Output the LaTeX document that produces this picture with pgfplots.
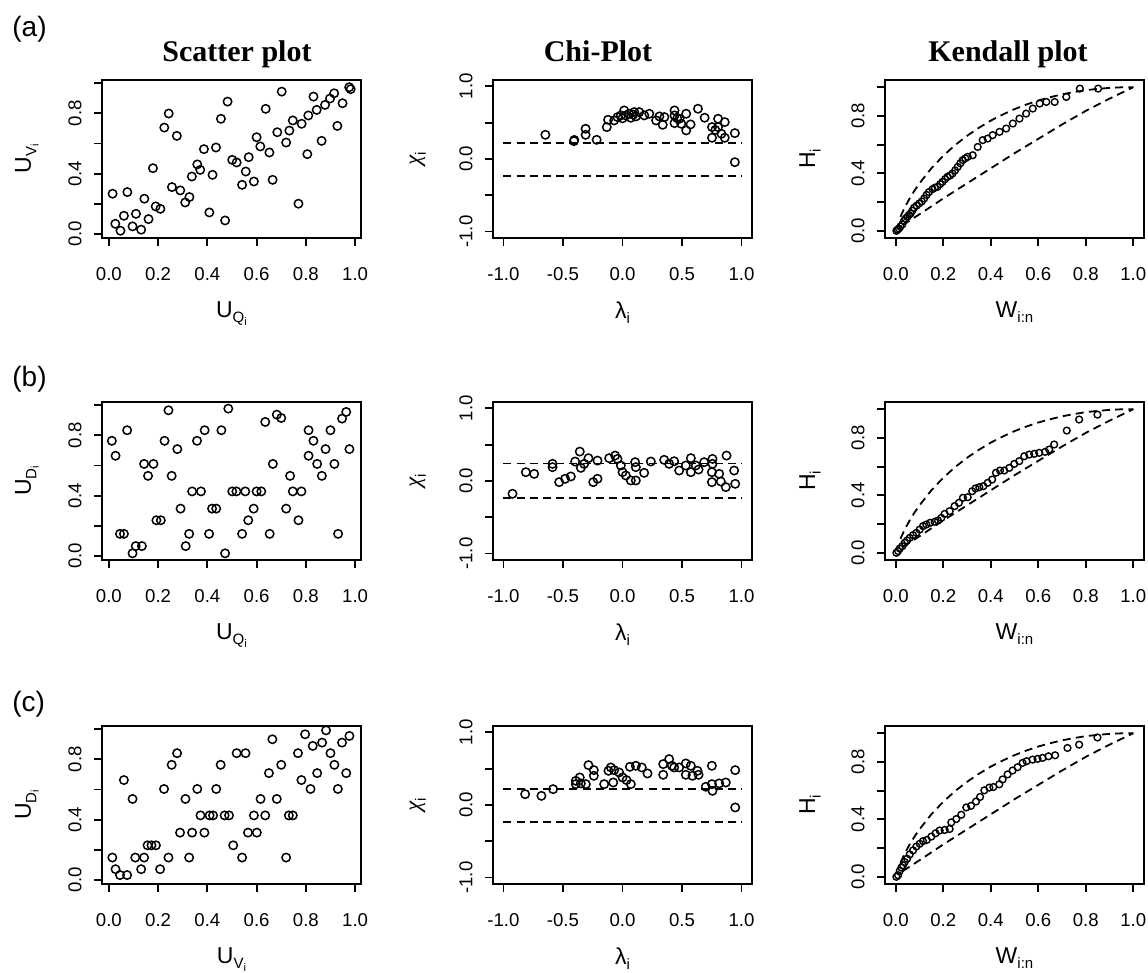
\documentclass[border=0pt]{standalone}
\usepackage{fontspec}
\setmainfont{Liberation Sans}
\newfontfamily\titlefont{Liberation Serif}
\usepackage{pgfplots}
\pgfplotsset{compat=1.18}
\newcommand{\sub}[1]{\raisebox{-0.45ex}{\fontsize{7.5}{8}\selectfont #1}}
\newcommand{\subsub}[2]{\raisebox{-0.45ex}{\fontsize{7.5}{8}\selectfont #1\raisebox{-0.3ex}{\fontsize{5.5}{6}\selectfont #2}}}
\pgfplotsset{
  rplot/.style={
    scale only axis, width=129.5pt, height=79pt, anchor=south west,
    axis line style={line width=0.9pt},
    tick align=outside, tick pos=left,
    major tick length=4pt,
    every tick/.style={black, line width=0.9pt},
    ticklabel style={font=\fontsize{9.3}{10}\selectfont, inner sep=0pt},
    xticklabel style={anchor=north, yshift=-10.5pt},
    yticklabel style={xshift=-6pt, rotate=90, anchor=south},
    label style={font=\fontsize{11.5}{13}\selectfont, inner sep=0pt},
    xlabel style={at={(axis description cs:0.5,-0.40)}, anchor=north},
    ylabel style={at={(axis description cs:-0.29,0.5)}, anchor=center},
  },
  scat/.style={rplot, xmin=-0.028, xmax=1.024, ymin=-0.026, ymax=1.02,
    xtick={0,0.2,0.4,0.6,0.8,1}, xticklabels={0.0,0.2,0.4,0.6,0.8,1.0},
    ytick={0,0.2,0.4,0.6,0.8,1}, yticklabels={0.0,,0.4,,0.8,}},
  chi/.style={rplot, xmin=-1.088, xmax=1.088, ymin=-1.088, ymax=1.088,
    xtick={-1,-0.5,0,0.5,1}, xticklabels={-1.0,-0.5,0.0,0.5,1.0},
    ytick={-1,-0.5,0,0.5,1}, yticklabels={-1.0,,0.0,,1.0},
    xlabel={λ\sub{i}}, ylabel={{\titlefont\itshape χ}\sub{i}}},
  kend/.style={rplot, xmin=-0.045, xmax=1.045, ymin=-0.05, ymax=1.05,
    xtick={0,0.2,0.4,0.6,0.8,1}, xticklabels={0.0,0.2,0.4,0.6,0.8,1.0},
    ytick={0,0.2,0.4,0.6,0.8,1}, yticklabels={0.0,,0.4,,0.8,},
    xlabel={W\sub{i:n}}, ylabel={H\sub{i}}},
  pts/.style={only marks, mark=o, mark size=2.1pt, line width=0.75pt, black},
  kpts/.style={only marks, mark=o, mark size=1.7pt, line width=0.7pt, black},
  dline/.style={black, line width=0.9pt, dash pattern=on 4pt off 2.6pt, mark=none},
}
\begin{document}
\begin{tikzpicture}
\useasboundingbox (0,0) rectangle (574pt,486.5pt);
% panel letters and titles
\node[anchor=base west, inner sep=0pt, font=\fontsize{14}{16}\selectfont] at (6pt,468pt) {(a)};
\node[anchor=base west, inner sep=0pt, font=\fontsize{14}{16}\selectfont] at (6pt,293pt) {(b)};
\node[anchor=base west, inner sep=0pt, font=\fontsize{14}{16}\selectfont] at (6pt,130.5pt) {(c)};
\node[anchor=base, inner sep=0pt, font=\titlefont\bfseries\fontsize{15}{17}\selectfont] at (118.5pt,455.5pt) {Scatter plot};
\node[anchor=base, inner sep=0pt, font=\titlefont\bfseries\fontsize{15}{17}\selectfont] at (299pt,455.5pt) {Chi-Plot};
\node[anchor=base, inner sep=0pt, font=\titlefont\bfseries\fontsize{15}{17}\selectfont] at (504pt,455.5pt) {Kendall plot};

% ================= ROW A =================
\begin{axis}[scat, at={(51pt,367.5pt)}, xlabel={U\subsub{Q}{i}}, ylabel={U\subsub{V}{i}}]
\addplot[pts] coordinates {
(0.015,0.267) (0.026,0.068) (0.047,0.022) (0.061,0.121) (0.075,0.278) (0.096,0.051)
(0.110,0.134) (0.131,0.029) (0.144,0.234) (0.161,0.099) (0.179,0.436) (0.190,0.183)
(0.209,0.167) (0.225,0.705) (0.243,0.798) (0.256,0.311) (0.276,0.650) (0.290,0.289)
(0.310,0.209) (0.327,0.245) (0.337,0.381) (0.359,0.461) (0.371,0.425) (0.386,0.562)
(0.408,0.143) (0.421,0.392) (0.435,0.573) (0.455,0.763) (0.472,0.090) (0.482,0.877)
(0.501,0.491) (0.519,0.474) (0.541,0.326) (0.556,0.414) (0.568,0.509) (0.589,0.348)
(0.600,0.641) (0.615,0.580) (0.637,0.829) (0.652,0.540) (0.665,0.359) (0.684,0.674)
(0.702,0.943) (0.720,0.606) (0.733,0.685) (0.747,0.752) (0.770,0.201) (0.783,0.730)
(0.806,0.529) (0.810,0.785) (0.831,0.910) (0.844,0.822) (0.864,0.617) (0.878,0.855)
(0.898,0.897) (0.915,0.932) (0.928,0.716) (0.949,0.866) (0.976,0.972) (0.982,0.959)
};
\end{axis}

\begin{axis}[chi, at={(246.5pt,367.5pt)}]
\addplot[dline] coordinates {(-1,0.225) (1,0.225)};
\addplot[dline] coordinates {(-1,-0.23) (1,-0.23)};
\addplot[pts] coordinates {
(-0.648,0.333) (-0.408,0.246) (-0.405,0.262) (-0.310,0.416) (-0.310,0.333) (-0.217,0.264)
(-0.132,0.439) (-0.121,0.540) (-0.070,0.531) (-0.042,0.577) (-0.014,0.600) (0.014,0.669)
(0.028,0.600) (0.056,0.623) (0.070,0.568) (0.099,0.646) (0.113,0.586) (0.141,0.646)
(0.183,0.600) (0.225,0.623) (0.282,0.531) (0.310,0.586) (0.338,0.471) (0.352,0.577)
(0.437,0.669) (0.437,0.600) (0.437,0.494) (0.479,0.554) (0.493,0.485) (0.535,0.623)
(0.535,0.393) (0.572,0.476) (0.634,0.692) (0.690,0.568) (0.752,0.439) (0.752,0.292)
(0.803,0.554) (0.803,0.439) (0.831,0.347) (0.859,0.508) (0.859,0.292) (0.944,0.356)
(0.944,-0.044) (0.000,0.560) (0.090,0.610) (0.460,0.560) (0.780,0.400)
};
\end{axis}

\begin{axis}[kend, at={(442.5pt,367.5pt)}]
\addplot[dline] coordinates {(0.02,0.098) (0.04,0.169) (0.06,0.229) (0.08,0.282) (0.1,0.330) (0.15,0.435) (0.2,0.522) (0.25,0.597) (0.3,0.661) (0.35,0.717) (0.4,0.767) (0.45,0.809) (0.5,0.847) (0.55,0.879) (0.6,0.907) (0.65,0.930) (0.7,0.950) (0.75,0.966) (0.8,0.979) (0.85,0.988) (0.9,0.995) (0.95,0.999) (1,1)};
\addplot[dline] coordinates {(0.03,0.04) (0.1,0.115) (0.2,0.225) (0.3,0.33) (0.4,0.435) (0.5,0.54) (0.6,0.64) (0.7,0.74) (0.8,0.835) (0.9,0.92) (1,1)};
\addplot[kpts] coordinates {
(0.003,0.0) (0.008,0.008) (0.014,0.016) (0.02,0.03) (0.028,0.045) (0.035,0.07) (0.042,0.085)
(0.049,0.097) (0.056,0.11) (0.063,0.121) (0.07,0.14) (0.077,0.16) (0.088,0.175) (0.099,0.19)
(0.11,0.205) (0.12,0.225) (0.13,0.25) (0.14,0.27) (0.155,0.29) (0.165,0.3) (0.176,0.306)
(0.187,0.325) (0.197,0.341) (0.208,0.36) (0.218,0.376) (0.229,0.385) (0.239,0.399) (0.25,0.42)
(0.261,0.445) (0.272,0.47) (0.282,0.492) (0.293,0.505) (0.303,0.515) (0.324,0.526) (0.345,0.584)
(0.366,0.631) (0.387,0.642) (0.408,0.666) (0.437,0.689) (0.465,0.712) (0.493,0.747) (0.521,0.781)
(0.549,0.816) (0.577,0.851) (0.606,0.886) (0.634,0.897) (0.669,0.897) (0.718,0.932) (0.775,0.99)
(0.852,0.99)
};
\end{axis}

% ================= ROW B =================
\begin{axis}[scat, at={(51pt,206.5pt)}, xlabel={U\subsub{Q}{i}}, ylabel={U\subsub{D}{i}}]
\addplot[pts] coordinates {
(0.012,0.763) (0.027,0.664) (0.045,0.147) (0.061,0.147) (0.074,0.833) (0.096,0.018)
(0.109,0.066) (0.134,0.066) (0.143,0.610) (0.159,0.531) (0.181,0.610) (0.193,0.237)
(0.211,0.237) (0.226,0.763) (0.242,0.965) (0.255,0.531) (0.278,0.708) (0.291,0.314)
(0.312,0.066) (0.326,0.147) (0.338,0.428) (0.358,0.763) (0.374,0.428) (0.389,0.833)
(0.407,0.147) (0.419,0.314) (0.436,0.314) (0.457,0.833) (0.472,0.018) (0.485,0.976)
(0.501,0.428) (0.518,0.428) (0.541,0.147) (0.554,0.428) (0.566,0.237) (0.588,0.314)
(0.600,0.428) (0.619,0.428) (0.635,0.888) (0.653,0.147) (0.666,0.610) (0.682,0.936)
(0.700,0.914) (0.720,0.314) (0.736,0.531) (0.747,0.428) (0.782,0.428) (0.770,0.237)
(0.811,0.833) (0.811,0.664) (0.831,0.763) (0.846,0.610) (0.865,0.531) (0.880,0.708)
(0.900,0.833) (0.916,0.610) (0.931,0.147) (0.947,0.910) (0.964,0.954) (0.977,0.708)
};
\end{axis}

\begin{axis}[chi, at={(246.5pt,206.5pt)}]
\addplot[dline] coordinates {(-1,0.24) (1,0.24)};
\addplot[dline] coordinates {(-1,-0.23) (1,-0.23)};
\addplot[pts] coordinates {
(-0.924,-0.176) (-0.812,0.121) (-0.742,0.098) (-0.588,0.236) (-0.588,0.190) (-0.532,-0.016)
(-0.482,0.030) (-0.434,0.062) (-0.398,0.268) (-0.359,0.405) (-0.350,0.181) (-0.322,0.236)
(-0.286,0.314) (-0.246,-0.016) (-0.210,0.030) (-0.210,0.281) (-0.112,0.314) (-0.062,0.350)
(-0.042,0.304) (-0.014,0.213) (0.000,0.121) (0.028,0.076) (0.070,0.007) (0.112,0.007)
(0.106,0.259) (0.112,0.190) (0.182,0.112) (0.238,0.268) (0.350,0.291) (0.392,0.236)
(0.434,0.272) (0.476,0.144) (0.532,0.213) (0.574,0.314) (0.574,0.121) (0.616,0.213)
(0.639,0.158) (0.686,0.259) (0.756,0.304) (0.756,0.236) (0.751,0.121) (0.751,-0.016)
(0.812,0.098) (0.826,-0.007) (0.874,0.350) (0.868,-0.085) (0.938,0.144) (0.947,-0.039)
};
\end{axis}

\begin{axis}[kend, at={(442.5pt,206.5pt)}]
\addplot[dline] coordinates {(0.02,0.098) (0.04,0.169) (0.06,0.229) (0.08,0.282) (0.1,0.330) (0.15,0.435) (0.2,0.522) (0.25,0.597) (0.3,0.661) (0.35,0.717) (0.4,0.767) (0.45,0.809) (0.5,0.847) (0.55,0.879) (0.6,0.907) (0.65,0.930) (0.7,0.950) (0.75,0.966) (0.8,0.979) (0.85,0.988) (0.9,0.995) (0.95,0.999) (1,1)};
\addplot[dline] coordinates {(0.03,0.04) (0.1,0.115) (0.2,0.225) (0.3,0.33) (0.4,0.435) (0.5,0.54) (0.6,0.64) (0.7,0.74) (0.8,0.835) (0.9,0.92) (1,1)};
\addplot[kpts] coordinates {
(0.003,0.0) (0.01,0.012) (0.017,0.03) (0.028,0.046) (0.038,0.07) (0.048,0.086) (0.059,0.104)
(0.073,0.123) (0.087,0.139) (0.101,0.162) (0.115,0.186) (0.129,0.197) (0.145,0.209) (0.164,0.216)
(0.178,0.225) (0.192,0.243) (0.206,0.271) (0.227,0.29) (0.248,0.325) (0.266,0.348) (0.283,0.383)
(0.303,0.387) (0.322,0.429) (0.336,0.448) (0.352,0.457) (0.369,0.464) (0.387,0.487) (0.406,0.510)
(0.422,0.557) (0.439,0.573) (0.457,0.573) (0.478,0.591) (0.499,0.619) (0.520,0.638) (0.541,0.672)
(0.562,0.684) (0.583,0.689) (0.604,0.696) (0.629,0.703) (0.646,0.719) (0.667,0.754) (0.720,0.851)
(0.772,0.928) (0.849,0.962)
};
\end{axis}

% ================= ROW C =================
\begin{axis}[scat, at={(51pt,44.5pt)}, xlabel={U\subsub{V}{i}}, ylabel={U\subsub{D}{i}}]
\addplot[pts] coordinates {
(0.014,0.149) (0.027,0.072) (0.045,0.033) (0.061,0.662) (0.074,0.033) (0.096,0.537)
(0.107,0.149) (0.131,0.072) (0.143,0.149) (0.157,0.230) (0.173,0.230) (0.191,0.230)
(0.208,0.072) (0.224,0.603) (0.242,0.149) (0.255,0.763) (0.277,0.840) (0.289,0.314)
(0.311,0.537) (0.326,0.149) (0.338,0.314) (0.359,0.603) (0.372,0.428) (0.388,0.314)
(0.409,0.428) (0.423,0.428) (0.436,0.603) (0.454,0.763) (0.470,0.428) (0.488,0.428)
(0.505,0.230) (0.519,0.840) (0.555,0.840) (0.541,0.149) (0.565,0.314) (0.589,0.428)
(0.601,0.314) (0.616,0.537) (0.635,0.428) (0.650,0.708) (0.664,0.932) (0.682,0.537)
(0.700,0.763) (0.720,0.149) (0.731,0.428) (0.747,0.428) (0.768,0.840) (0.782,0.662)
(0.797,0.965) (0.819,0.603) (0.828,0.888) (0.846,0.708) (0.866,0.910) (0.882,0.991)
(0.900,0.840) (0.916,0.763) (0.930,0.603) (0.947,0.910) (0.964,0.708) (0.977,0.954)
};
\end{axis}

\begin{axis}[chi, at={(246.5pt,44.5pt)}]
\addplot[dline] coordinates {(-1,0.225) (1,0.225)};
\addplot[dline] coordinates {(-1,-0.235) (1,-0.235)};
\addplot[pts] coordinates {
(-0.818,0.149) (-0.681,0.126) (-0.583,0.218) (-0.392,0.333) (-0.392,0.287) (-0.359,0.379)
(-0.350,0.297) (-0.308,0.287) (-0.286,0.549) (-0.241,0.480) (-0.241,0.402) (-0.154,0.287)
(-0.118,0.471) (-0.098,0.517) (-0.078,0.310) (-0.070,0.480) (-0.028,0.448) (0.000,0.379)
(0.034,0.343) (0.062,0.526) (0.070,0.287) (0.112,0.540) (0.162,0.517) (0.210,0.434)
(0.342,0.563) (0.342,0.416) (0.392,0.632) (0.415,0.540) (0.434,0.517) (0.476,0.517)
(0.532,0.572) (0.532,0.416) (0.574,0.540) (0.588,0.402) (0.630,0.471) (0.639,0.416)
(0.700,0.251) (0.751,0.540) (0.751,0.287) (0.756,0.195) (0.812,0.297) (0.868,0.310)
(0.947,0.480) (0.947,-0.034)
};
\end{axis}

\begin{axis}[kend, at={(442.5pt,44.5pt)}]
\addplot[dline] coordinates {(0.02,0.098) (0.04,0.169) (0.06,0.229) (0.08,0.282) (0.1,0.330) (0.15,0.435) (0.2,0.522) (0.25,0.597) (0.3,0.661) (0.35,0.717) (0.4,0.767) (0.45,0.809) (0.5,0.847) (0.55,0.879) (0.6,0.907) (0.65,0.930) (0.7,0.950) (0.75,0.966) (0.8,0.979) (0.85,0.988) (0.9,0.995) (0.95,0.999) (1,1)};
\addplot[dline] coordinates {(0.03,0.04) (0.1,0.115) (0.2,0.225) (0.3,0.33) (0.4,0.435) (0.5,0.54) (0.6,0.64) (0.7,0.74) (0.8,0.835) (0.9,0.92) (1,1)};
\addplot[kpts] coordinates {
(0.003,0.0) (0.01,0.011) (0.017,0.041) (0.024,0.064) (0.031,0.08) (0.038,0.103) (0.048,0.126)
(0.059,0.156) (0.073,0.184) (0.087,0.211) (0.101,0.23) (0.115,0.248) (0.131,0.257) (0.150,0.28)
(0.168,0.303) (0.185,0.322) (0.206,0.326) (0.227,0.333) (0.234,0.379) (0.255,0.402) (0.276,0.432)
(0.297,0.483) (0.317,0.494) (0.338,0.524) (0.355,0.556) (0.373,0.602) (0.394,0.621) (0.411,0.625)
(0.436,0.644) (0.450,0.678) (0.471,0.713) (0.492,0.740) (0.513,0.763) (0.534,0.793) (0.551,0.805)
(0.576,0.816) (0.597,0.821) (0.618,0.828) (0.643,0.839) (0.671,0.846) (0.723,0.897) (0.772,0.92)
(0.849,0.970)
};
\end{axis}
\end{tikzpicture}
\end{document}
